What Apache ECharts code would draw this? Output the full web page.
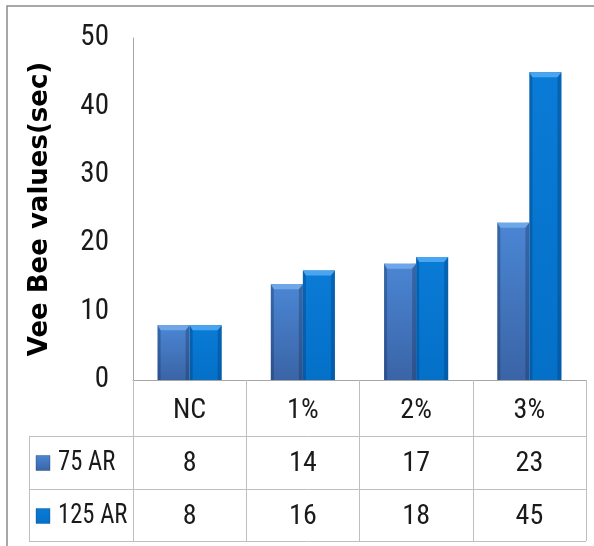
<!DOCTYPE html>
<html>
<head>
<meta charset="utf-8">
<script src="https://cdn.jsdelivr.net/npm/echarts@6/dist/echarts.min.js"></script>
<style>
  html, body { margin: 0; padding: 0; background: #ffffff; }
  #chart { width: 594px; height: 546px; }
</style>
</head>
<body>
<div id="chart"></div>
<script>
// Vee Bee consistency times (seconds) per additive dosage
const categories = ['NC', '1%', '2%', '3%'];
const seriesNames = ['75 AR', '125 AR'];
const ar75 = [8, 14, 17, 23];
const ar125 = [8, 16, 18, 45];
const yTicks = [0, 10, 20, 30, 40, 50];

const NARROW = "'Liberation Sans Narrow', 'Arial Narrow', 'Roboto Condensed', sans-serif";
const LINE = '#bfbfbf';

// bevelled-bar palettes
const palettes = [
  { top: '#4b86d4', bottom: '#3a64a6', bevel: '#6ea6e8', edge: 'rgba(20,45,90,0.35)' },
  { top: '#0a7bd6', bottom: '#0470c8', bevel: '#49a5ef', edge: 'rgba(0,45,100,0.30)' }
];

function fillFor(p) {
  return new echarts.graphic.LinearGradient(0, 0, 0, 1, [
    { offset: 0, color: p.top },
    { offset: 1, color: p.bottom }
  ]);
}

function barRenderer(slot, p) {
  return function (params, api) {
    const cat = api.value(0);
    const val = api.value(1);
    const topPt = api.coord([cat, val]);
    const basePt = api.coord([cat, 0]);
    const band = api.size([1, 0])[0];
    const bw = band * 0.283;
    const x0 = topPt[0] - bw + slot * bw;
    const y0 = topPt[1];
    const h = basePt[1] - y0;
    const b = Math.min(5, h / 2);
    return {
      type: 'group',
      children: [
        { type: 'rect', shape: { x: x0, y: y0, width: bw, height: h }, style: { fill: fillFor(p) } },
        { type: 'rect', shape: { x: x0, y: y0, width: 3, height: h }, style: { fill: p.edge } },
        { type: 'rect', shape: { x: x0 + bw - 4, y: y0, width: 4, height: h }, style: { fill: p.edge } },
        { type: 'polygon', shape: { points: [[x0, y0], [x0 + bw, y0], [x0 + bw - 4, y0 + b], [x0 + 3, y0 + b]] },
          style: { fill: p.bevel } }
      ]
    };
  };
}

const chart = echarts.init(document.getElementById('chart'), null, { renderer: 'canvas' });

// table geometry
const tableLeft = 29, tableRight = 586;
const rowLines = [436, 489, 541];
const rowCenters = [463, 516];

const graphics = [
  // outer chart frame
  { type: 'rect', shape: { x: 7, y: 6, width: 620, height: 620 },
    style: { fill: null, stroke: '#8c8c8c', lineWidth: 1.5 }, silent: true },
  // horizontal table rules
  ...rowLines.map(y => ({ type: 'line', shape: { x1: tableLeft, y1: y + 0.5, x2: tableRight, y2: y + 0.5 },
    style: { stroke: LINE, lineWidth: 1 }, silent: true })),
  // left rule of the legend column
  { type: 'line', shape: { x1: tableLeft + 0.5, y1: rowLines[0], x2: tableLeft + 0.5, y2: rowLines[2] },
    style: { stroke: LINE, lineWidth: 1 }, silent: true }
];

// legend keys + names inside the data table
seriesNames.forEach((name, i) => {
  const cy = rowCenters[i];
  graphics.push({ type: 'rect', shape: { x: 36, y: cy - 7.5, width: 14, height: 15 },
    style: { fill: fillFor(palettes[i]), stroke: palettes[i].edge, lineWidth: 1 }, silent: true });
  graphics.push({ type: 'text', x: 58, y: cy, scaleX: 0.88,
    style: { text: name, font: '28px ' + NARROW, fill: '#1a1a1a', textVerticalAlign: 'middle', textAlign: 'left' },
    silent: true });
});

const option = {
  backgroundColor: '#ffffff',
  animation: false,
  grid: { left: 133, right: 8, top: 38, bottom: 166 },
  xAxis: {
    type: 'category',
    data: categories,
    axisLine: { show: true, lineStyle: { color: '#a6a6a6', width: 1 } },
    axisTick: { show: true, interval: 0, length: 161, lineStyle: { color: LINE, width: 1 } },
    axisLabel: {
      interval: 0,
      margin: 4,
      color: '#1a1a1a',
      fontFamily: NARROW,
      fontSize: 28,
      lineHeight: 53,
      formatter: (value, idx) => value + '\n' + ar75[idx] + '\n' + ar125[idx]
    }
  },
  yAxis: {
    type: 'value',
    min: yTicks[0],
    max: yTicks[yTicks.length - 1],
    interval: yTicks[1] - yTicks[0],
    name: 'Vee Bee values(sec)',
    nameLocation: 'middle',
    nameRotate: 90,
    nameGap: 80,
    nameTextStyle: { fontFamily: "'DejaVu Sans', sans-serif", fontWeight: 'bold', fontSize: 26, color: '#000000' },
    axisLine: { show: true, lineStyle: { color: '#a6a6a6', width: 1 } },
    axisTick: { show: false },
    splitLine: { show: false },
    axisLabel: { margin: 24, color: '#1a1a1a', fontFamily: NARROW, fontSize: 29 }
  },
  series: [ar75, ar125].map((vals, s) => ({
    type: 'custom',
    name: seriesNames[s],
    renderItem: barRenderer(s, palettes[s]),
    encode: { x: 0, y: 1 },
    data: vals.map((v, i) => [i, v]),
    z: 3
  })),
  graphic: graphics
};

chart.setOption(option);
</script>
</body>
</html>
